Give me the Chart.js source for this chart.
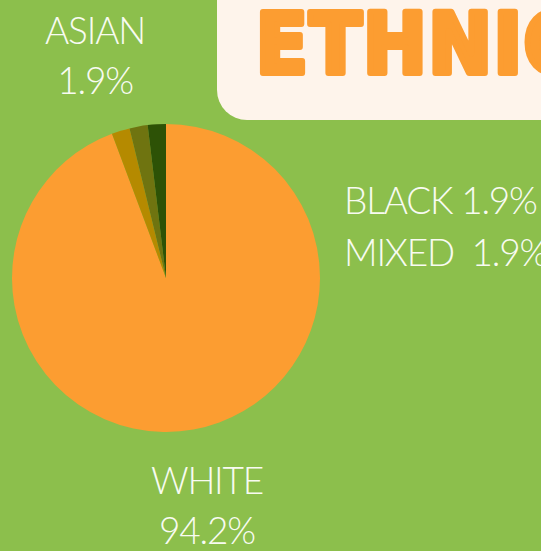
<!DOCTYPE html>
<html>
<head>
<meta charset="utf-8">
<script src="https://cdn.jsdelivr.net/npm/chart.js@4.4.1/dist/chart.umd.min.js"></script>
<style>
  html, body { margin: 0; padding: 0; }
  body {
    width: 541px; height: 551px; overflow: hidden; position: relative;
    background: #8CBF4C;
    font-family: "Lato", "Open Sans", sans-serif;
    font-weight: 300; color: #F8FBF2;
  }
  #pie { position: absolute; left: 12px; top: 124px; }
  .lbl { position: absolute; font-size: 37px; line-height: 50px; white-space: pre; letter-spacing: -1.2px; }
  .center { text-align: center; }
  #title { position: absolute; left: 0; top: 0; }
</style>
</head>
<body>
<svg id="title" width="541" height="130">
  <rect x="217" y="-40" width="400" height="160" rx="30" ry="30" fill="#FEF4EB"/>
  <text x="256" y="73" font-family="Liberation Sans Narrow, DejaVu Sans Condensed, sans-serif"
        font-weight="bold" font-size="84" fill="#FC9D31" stroke="#FC9D31" stroke-width="6"
        stroke-linejoin="round" letter-spacing="2">ETHNICITY</text>
</svg>

<canvas id="pie" width="308" height="308"></canvas>

<div class="lbl center" style="left:40px; top:5px; width:110px;">ASIAN
1.9%</div>
<div class="lbl" style="left:344px; top:175px;">BLACK 1.9%</div>
<div class="lbl" style="left:344px; top:227px;">MIXED  1.9%</div>
<div class="lbl center" style="left:147px; top:455px; width:120px;">WHITE
94.2%</div>

<script>
// ethnicity split, clockwise from 12 o'clock
const groups = ["WHITE", "ASIAN", "BLACK", "MIXED"];
const shares = [94.2, 1.9, 1.9, 1.9];
const sliceColors = ["#FC9D31", "#B58A00", "#6F7410", "#2D5206"];

new Chart(document.getElementById("pie"), {
  type: "pie",
  data: {
    labels: groups,
    datasets: [{
      data: shares,
      backgroundColor: sliceColors,
      borderWidth: 0,
    }],
  },
  options: {
    responsive: false,
    animation: false,
    devicePixelRatio: 1,
    layout: { padding: 0 },
    plugins: {
      legend: { display: false },
      tooltip: { enabled: false },
    },
  },
});
</script>
</body>
</html>
